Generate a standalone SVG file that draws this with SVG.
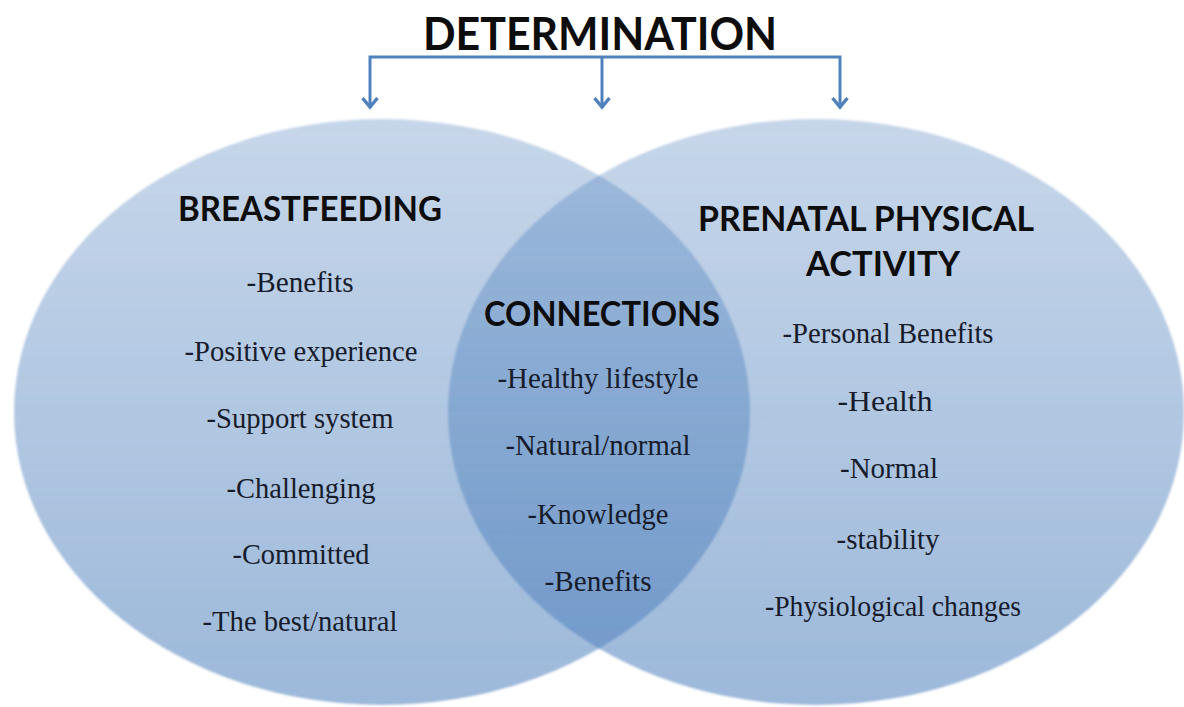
<svg xmlns="http://www.w3.org/2000/svg" width="1184" height="707" viewBox="0 0 1184 707">
  <style>
    .hdr { font-family: Lato, "Open Sans", "Liberation Sans", sans-serif; font-weight: 700; fill: #0d0d0d; text-anchor: middle; }
    .item { font-family: "Liberation Serif", "DejaVu Serif", serif; font-size: 30px; fill: #161c2c; text-anchor: middle; }
    .conn { fill: none; stroke: #4f81bd; stroke-width: 3; }
  </style>
  <defs>
    <linearGradient id="fillGrad" gradientUnits="userSpaceOnUse" x1="0" y1="118" x2="0" y2="706">
      <stop offset="0" stop-color="#4f81bd" stop-opacity="0.32"/>
      <stop offset="1" stop-color="#4f81bd" stop-opacity="0.56"/>
    </linearGradient>
    <filter id="soft" x="-5%" y="-5%" width="110%" height="110%">
      <feGaussianBlur stdDeviation="1"/>
    </filter>
    <marker id="arrow" viewBox="0 0 14 18" refX="12" refY="9" markerWidth="14" markerHeight="18" markerUnits="userSpaceOnUse" orient="auto-start-reverse">
      <polyline points="2,1.5 11,9 2,16.5" fill="none" stroke="#4f81bd" stroke-width="3.4" stroke-linejoin="miter"/>
    </marker>
  </defs>
  <rect width="1184" height="707" fill="#ffffff"/>

  <g id="breastfeeding">
    <ellipse cx="382" cy="412" rx="368" ry="293" fill="url(#fillGrad)" filter="url(#soft)"/>
    <text class="hdr" x="310" y="221" font-size="34" textLength="264" lengthAdjust="spacingAndGlyphs">BREASTFEEDING</text>
    <text class="item" font-family="'Liberation Serif', 'DejaVu Serif', serif" x="300" y="292" textLength="107" lengthAdjust="spacingAndGlyphs">-Benefits</text>
    <text class="item" font-family="'Liberation Serif', 'DejaVu Serif', serif" x="301" y="361" textLength="233" lengthAdjust="spacingAndGlyphs">-Positive experience</text>
    <text class="item" font-family="'Liberation Serif', 'DejaVu Serif', serif" x="300" y="428" textLength="187" lengthAdjust="spacingAndGlyphs">-Support system</text>
    <text class="item" font-family="'Liberation Serif', 'DejaVu Serif', serif" x="301" y="498" textLength="149" lengthAdjust="spacingAndGlyphs">-Challenging</text>
    <text class="item" font-family="'Liberation Serif', 'DejaVu Serif', serif" x="301" y="564" textLength="137" lengthAdjust="spacingAndGlyphs">-Committed</text>
    <text class="item" font-family="'Liberation Serif', 'DejaVu Serif', serif" x="300" y="631" textLength="195" lengthAdjust="spacingAndGlyphs">-The best/natural</text>
  </g>

  <g id="prenatal">
    <ellipse cx="816" cy="412" rx="368" ry="293" fill="url(#fillGrad)" filter="url(#soft)"/>
    <text class="hdr" x="866" y="231" font-size="35" textLength="336" lengthAdjust="spacingAndGlyphs">PRENATAL PHYSICAL</text>
    <text class="hdr" x="883" y="276" font-size="35" textLength="154" lengthAdjust="spacingAndGlyphs">ACTIVITY</text>
    <text class="item" font-family="'Liberation Serif', 'DejaVu Serif', serif" x="888" y="343" textLength="211" lengthAdjust="spacingAndGlyphs">-Personal Benefits</text>
    <text class="item" font-family="'Liberation Serif', 'DejaVu Serif', serif" x="885" y="411" textLength="95" lengthAdjust="spacingAndGlyphs">-Health</text>
    <text class="item" font-family="'Liberation Serif', 'DejaVu Serif', serif" x="889" y="478" textLength="98" lengthAdjust="spacingAndGlyphs">-Normal</text>
    <text class="item" font-family="'Liberation Serif', 'DejaVu Serif', serif" x="888" y="549" textLength="103" lengthAdjust="spacingAndGlyphs">-stability</text>
    <text class="item" font-family="'Liberation Serif', 'DejaVu Serif', serif" x="893" y="616" textLength="256" lengthAdjust="spacingAndGlyphs">-Physiological changes</text>
  </g>

  <g id="connections">
    <text class="hdr" x="602" y="326" font-size="34" textLength="236" lengthAdjust="spacingAndGlyphs">CONNECTIONS</text>
    <text class="item" font-family="'Liberation Serif', 'DejaVu Serif', serif" x="598" y="388" textLength="201" lengthAdjust="spacingAndGlyphs">-Healthy lifestyle</text>
    <text class="item" font-family="'Liberation Serif', 'DejaVu Serif', serif" x="598" y="455" textLength="185" lengthAdjust="spacingAndGlyphs">-Natural/normal</text>
    <text class="item" font-family="'Liberation Serif', 'DejaVu Serif', serif" x="598" y="524" textLength="141" lengthAdjust="spacingAndGlyphs">-Knowledge</text>
    <text class="item" font-family="'Liberation Serif', 'DejaVu Serif', serif" x="598" y="591" textLength="107" lengthAdjust="spacingAndGlyphs">-Benefits</text>
  </g>

  <g id="determination">
    <text class="hdr" x="600" y="50" font-size="46" textLength="354" lengthAdjust="spacingAndGlyphs">DETERMINATION</text>
  </g>

  <g id="connectors">
    <polyline class="conn" points="370,108 370,57 840,57 840,108" marker-start="url(#arrow)" marker-end="url(#arrow)"/>
    <line class="conn" x1="602" y1="57" x2="602" y2="108" marker-end="url(#arrow)"/>
  </g>
</svg>
